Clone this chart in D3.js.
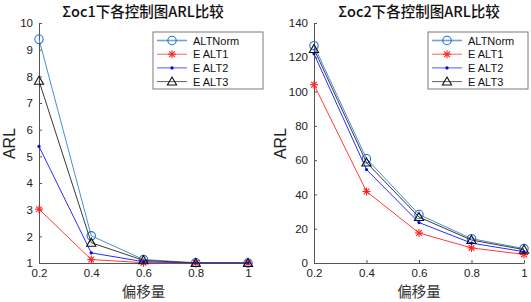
<!DOCTYPE html>
<html>
<head>
<meta charset="utf-8">
<script src="https://cdn.jsdelivr.net/npm/d3@7"></script>
<style>
  body { margin: 0; background: #fff; }
  svg { display: block; }
  .tick text { font-family: Arial, "Liberation Sans", sans-serif; font-size: 11.5px; fill: #222; }
  .domain, .tick line { stroke: #555; }
</style>
</head>
<body>
<div id="graphicContainer"></div>
<script>
// offsets on the x axis
var shifts = [0.2, 0.4, 0.6, 0.8, 1];
var xTicks = [0.2, 0.4, 0.6, 0.8, 1];

// series names
var seriesNames = ["ALTNorm", "E ALT1", "E ALT2", "E ALT3"];

// Σoc1 panel
var oc1ALTNorm = [9.39, 2.02, 1.13, 1.01, 1.0];
var oc1ALT1 = [3.02, 1.13, 1.01, 1.0, 1.0];
var oc1ALT2 = [5.37, 1.38, 1.05, 1.0, 1.0];
var oc1ALT3 = [7.83, 1.76, 1.10, 1.0, 1.0];
var oc1YTicks = [1, 2, 3, 4, 5, 6, 7, 8, 9, 10];

// Σoc2 panel
var oc2ALTNorm = [126.8, 60.8, 28.3, 14.2, 8.4];
var oc2ALT1 = [104.0, 41.7, 17.5, 8.8, 5.0];
var oc2ALT2 = [122.0, 54.5, 23.6, 11.6, 6.6];
var oc2ALT3 = [124.8, 58.6, 26.8, 13.4, 7.8];
var oc2YTicks = [0, 20, 40, 60, 80, 100, 120, 140];

var styles = [
  { line: "#4a8ed6", marker: "#1f6fcf", shape: "circle", width: 1 },
  { line: "#ff3b3b", marker: "#ff2020", shape: "star", width: 1 },
  { line: "#2b2bff", marker: "#0000ee", shape: "dot", width: 1 },
  { line: "#3a3a3a", marker: "#111111", shape: "triangle", width: 1 }
];

var svg = d3.select("#graphicContainer").append("svg")
  .attr("width", 531).attr("height", 302);

function drawMarker(g, shape, color, x, y) {
  if (shape === "circle") {
    g.append("circle").attr("cx", x).attr("cy", y).attr("r", 4.2)
      .attr("fill", "none").attr("stroke", color).attr("stroke-width", 1.1);
  } else if (shape === "star") {
    var r = 4;
    [0, 45, 90, 135].forEach(function (a) {
      var rad = a * Math.PI / 180;
      g.append("line")
        .attr("x1", x - r * Math.cos(rad)).attr("y1", y - r * Math.sin(rad))
        .attr("x2", x + r * Math.cos(rad)).attr("y2", y + r * Math.sin(rad))
        .attr("stroke", color).attr("stroke-width", 1.1);
    });
  } else if (shape === "dot") {
    g.append("circle").attr("cx", x).attr("cy", y).attr("r", 1.6).attr("fill", color);
  } else if (shape === "triangle") {
    var s = 4.6;
    g.append("path")
      .attr("d", "M" + x + "," + (y - s) + "L" + (x + s) + "," + (y + s * 0.75) + "L" + (x - s) + "," + (y + s * 0.75) + "Z")
      .attr("fill", "none").attr("stroke", color).attr("stroke-width", 1.1);
  }
}

function drawPanel(opt) {
  var g = svg.append("g");
  var x = d3.scaleLinear().domain([0.2, 1]).range([opt.left, opt.right]);
  var y = d3.scaleLinear().domain(opt.yDomain).range([263, 23]);

  var xAxis = d3.axisBottom(x).tickValues(xTicks)
    .tickFormat(function (d) { return d === 1 ? "1" : d3.format(".1f")(d); })
    .tickSizeInner(-3).tickSizeOuter(0).tickPadding(6);
  var yAxis = d3.axisLeft(y).tickValues(opt.yTicks)
    .tickSizeInner(-3).tickSizeOuter(0).tickPadding(6);

  g.append("g").attr("transform", "translate(0,263)").call(xAxis);
  g.append("g").attr("transform", "translate(" + opt.left + ",0)").call(yAxis);

  var line = d3.line().x(function (d, i) { return x(shifts[i]); }).y(function (d) { return y(d); });

  opt.series.forEach(function (vals, k) {
    var st = styles[k];
    g.append("path").datum(vals).attr("d", line)
      .attr("fill", "none").attr("stroke", st.line).attr("stroke-width", st.width);
    vals.forEach(function (v, i) {
      drawMarker(g, st.shape, st.marker, x(shifts[i]), y(v));
    });
  });

  // title
  g.append("text").attr("x", opt.titleX).attr("y", 17)
    .attr("text-anchor", "middle")
    .style("font-family", "'Noto Sans CJK SC', sans-serif")
    .style("font-size", "14.5px").style("font-weight", "500").style("fill", "#111")
    .text(opt.title);

  // y label
  g.append("text")
    .attr("transform", "translate(" + opt.yLabelX + ",143.5) rotate(-90)")
    .attr("text-anchor", "middle")
    .style("font-family", "Arial, 'Liberation Sans', sans-serif")
    .style("font-size", "16px").style("fill", "#222")
    .text("ARL");

  // x label
  g.append("text").attr("x", (opt.left + opt.right) / 2).attr("y", 297)
    .attr("text-anchor", "middle")
    .style("font-family", "'Noto Sans CJK SC', sans-serif")
    .style("font-size", "14.5px").style("fill", "#333")
    .text("偏移量");

  // legend
  var lg = g.append("g");
  lg.append("rect").attr("x", opt.legX).attr("y", 32).attr("width", opt.legW).attr("height", 57)
    .attr("fill", "#fff").attr("stroke", "#7a7a7a").attr("stroke-width", 1);
  seriesNames.forEach(function (name, k) {
    var st = styles[k];
    var yy = 40.5 + k * 13.7;
    lg.append("line").attr("x1", opt.legX + 4).attr("x2", opt.legX + 34)
      .attr("y1", yy).attr("y2", yy)
      .attr("stroke", st.line).attr("stroke-width", k === 0 ? 1.6 : 1).attr("opacity", 0.8);
    drawMarker(lg, st.shape, st.marker, opt.legX + 19, yy);
    lg.append("text").attr("x", opt.legX + 40).attr("y", yy + 4)
      .style("font-family", "Arial, 'Liberation Sans', sans-serif")
      .style("font-size", "11px").style("fill", "#111")
      .text(name);
  });
}

drawPanel({
  left: 39, right: 248, yDomain: [1, 10], yTicks: oc1YTicks,
  series: [oc1ALTNorm, oc1ALT1, oc1ALT2, oc1ALT3],
  title: "Σoc1下各控制图ARL比较", titleX: 143, yLabelX: 15,
  legX: 153, legW: 110
});

drawPanel({
  left: 314, right: 524, yDomain: [0, 140], yTicks: oc2YTicks,
  series: [oc2ALTNorm, oc2ALT1, oc2ALT2, oc2ALT3],
  title: "Σoc2下各控制图ARL比较", titleX: 419, yLabelX: 285.5,
  legX: 428, legW: 100
});
</script>
</body>
</html>
